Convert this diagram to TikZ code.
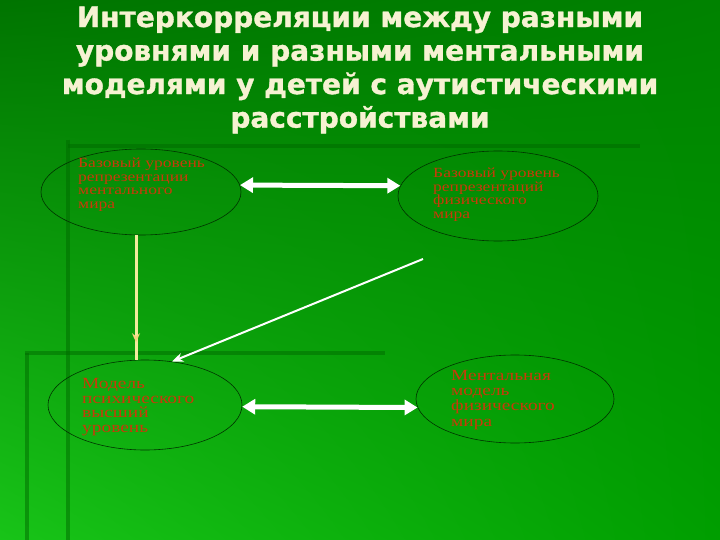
\documentclass[tikz,border=0pt]{standalone}
\usepackage{fontspec}
\setmainfont{Liberation Serif}
\newfontfamily\titlefont[FakeBold=1.2]{DejaVu Sans Bold}
\newfontfamily\elfont[FakeStretch=1.25]{Liberation Serif}
\usetikzlibrary{shapes.geometric,arrows.meta,calc,decorations.markings,shadings}
\definecolor{bgtl}{HTML}{007400}
\definecolor{bgtr}{HTML}{008200}
\definecolor{bgbl}{HTML}{18C418}
\definecolor{bgbr}{HTML}{009E00}
\definecolor{titlecol}{HTML}{F6F2D2}
\definecolor{redtext}{HTML}{C83A0A}
\definecolor{decoline}{HTML}{006A00}
\definecolor{ylw}{HTML}{F2EC9C}
\tikzset{
  ell/.style={ellipse, draw=black!80!green, line width=0.6pt, inner sep=0pt},
  eltext/.style={anchor=north west, inner sep=0pt, text=redtext, align=left, font=\elfont\fontsize{14}{13.5}\selectfont},
  dblarrow/.style={draw=white, line width=5pt, {Triangle[width=15pt,length=13pt]}-{Triangle[width=15pt,length=13pt]}},
  diagarrow/.style={draw=white, line width=2pt, -{Stealth[length=11pt,width=9pt]}},
  vline/.style={draw=ylw, line width=3pt, postaction={decorate}, decoration={markings, mark=at position 0.86 with {\arrow[ylw!80!orange]{Stealth[length=9pt,width=8pt]}}}},
  deco/.style={draw=decoline, line width=3.5pt, opacity=0.5}
}
\begin{document}
\begin{tikzpicture}[x=1pt,y=-1pt]
\useasboundingbox (0,0) rectangle (720,540);
\shade[upper left=bgtl, upper right=bgtr, lower left=bgbl, lower right=bgbr] (0,0) rectangle (720,540);
% decorative template lines
\draw[deco] (68,146) -- (640,146);
\draw[deco] (68,140) -- (68,540);
\draw[deco] (25,353) -- (385,353);
\draw[deco] (27,353) -- (27,540);
% title
\node[text=titlecol, align=center, font=\titlefont\fontsize{28}{33.5}\selectfont] (title) at (360,70)
  {Интеркорреляции между разными\\уровнями и разными ментальными\\моделями у детей с аутистическими\\расстройствами};
% ellipses
\node[ell, minimum width=200pt, minimum height=86pt] (e1) at (141,192) {};
\node[ell, minimum width=200pt, minimum height=90pt] (e2) at (498,196) {};
\node[ell, minimum width=194pt, minimum height=90pt] (e3) at (145,405) {};
\node[ell, minimum width=198pt, minimum height=88pt] (e4) at (515,399) {};
% texts
\node[eltext] (t1) at (78,158) {Базовый уровень\\репрезентации\\ментального\\мира};
\node[eltext] (t2) at (433,168) {Базовый уровень\\репрезентаций\\физического\\мира};
\node[eltext, font=\elfont\fontsize{15.5}{14.8}\selectfont] (t3) at (82,378) {Модель\\психического\\высший\\уровень};
\node[eltext, font=\elfont\fontsize{15.5}{15.3}\selectfont] (t4) at (451,370) {Ментальная\\модель\\физического\\мира};
% connectors
\draw[dblarrow] (e1.4) -- (e2.174);
\draw[dblarrow] (e3.-1) -- (e4.185);
\draw[vline] ($(e1.south)+(-5,0)$) -- ($(e3.north)+(-9,0)$);
\coordinate (d0) at (423,259);
\draw[diagarrow] (d0) -- (e3.58);
\end{tikzpicture}
\end{document}
